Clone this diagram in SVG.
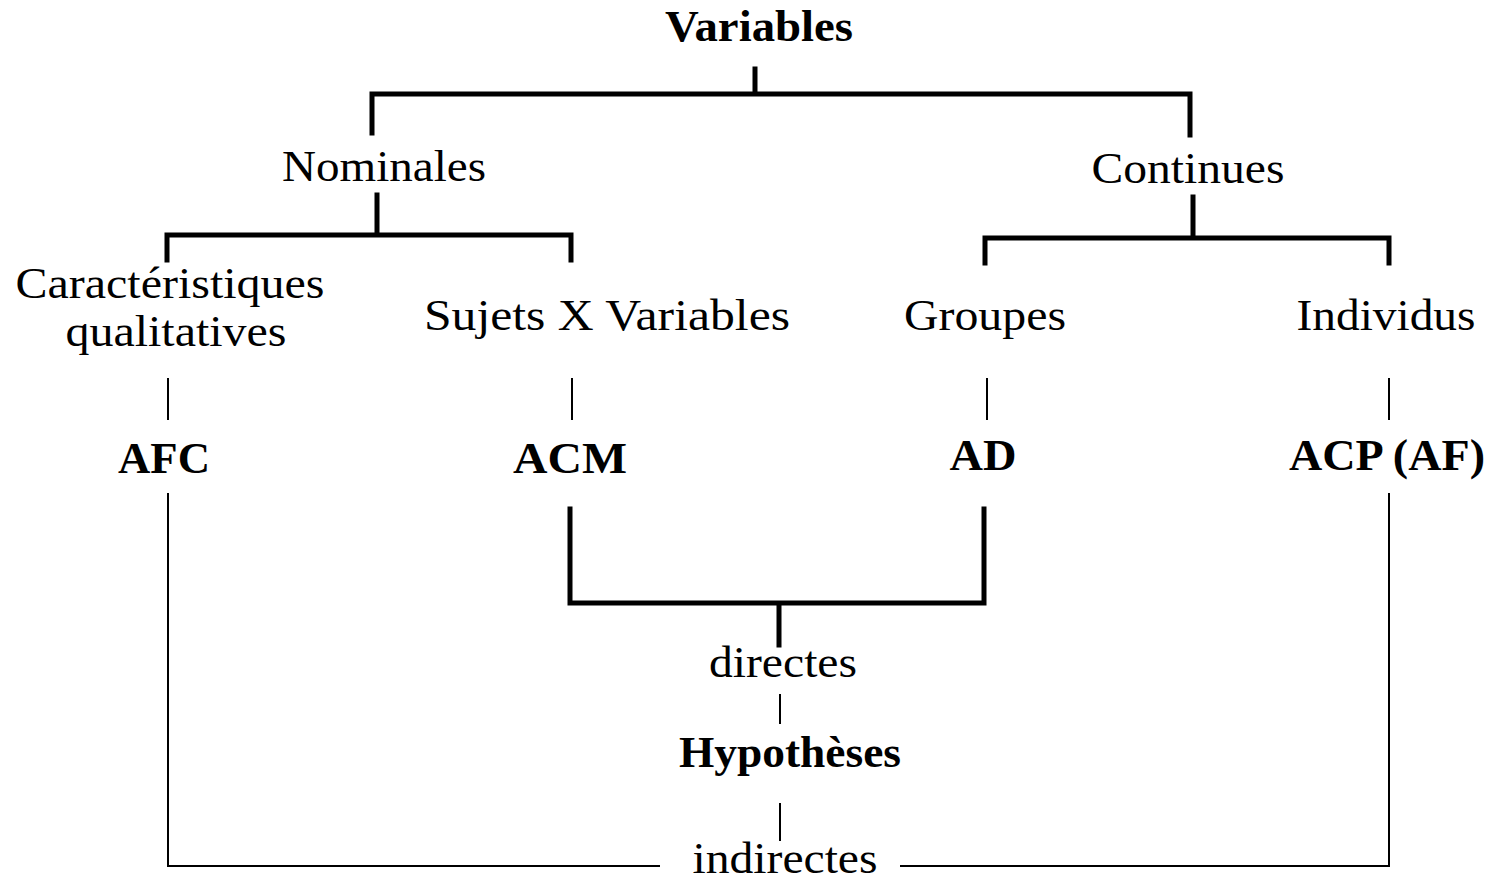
<svg xmlns="http://www.w3.org/2000/svg" width="1494" height="881" viewBox="0 0 1494 881">
<style>
text{font-family:"Liberation Serif","Times New Roman",serif;font-size:44px;fill:#000;text-anchor:middle}
.b{font-weight:bold}
.thick{stroke:#000;stroke-width:5;fill:none;stroke-linecap:square}
.thin{stroke:#000;stroke-width:2;fill:none}
</style>
<rect width="1494" height="881" fill="#fff"/>
<g id="connectors">
<path class="thick" d="M755,69 V93 M372,133 V94 H1190 V135"/>
<path class="thick" d="M377,195 V234 M167,260 V235 H571 V260"/>
<path class="thick" d="M1193,197 V236 M985,263 V238 H1389 V263"/>
<path class="thin" d="M168,378 V420 M572,378 V420 M987,378 V420 M1389,378 V420"/>
<path class="thick" d="M570,509 V603 H984 V509 M779,606 V645"/>
<path class="thin" d="M780,694 V724 M780,803 V841"/>
<path class="thin" d="M168,493 V866 H660 M900,866 H1389 V493"/>
</g>
<g id="n-variables"><text class="b" x="759" y="41" textLength="188" lengthAdjust="spacingAndGlyphs">Variables</text></g>
<g id="n-nominales"><text x="384" y="181" textLength="204" lengthAdjust="spacingAndGlyphs">Nominales</text></g>
<g id="n-continues"><text x="1188" y="183" textLength="193" lengthAdjust="spacingAndGlyphs">Continues</text></g>
<g id="n-caract"><text x="170" y="298" textLength="309" lengthAdjust="spacingAndGlyphs">Caractéristiques</text><text x="176" y="346" textLength="221" lengthAdjust="spacingAndGlyphs">qualitatives</text></g>
<g id="n-sujets"><text x="607" y="330" textLength="366" lengthAdjust="spacingAndGlyphs">Sujets X Variables</text></g>
<g id="n-groupes"><text x="985" y="330" textLength="162" lengthAdjust="spacingAndGlyphs">Groupes</text></g>
<g id="n-individus"><text x="1386" y="330" textLength="179" lengthAdjust="spacingAndGlyphs">Individus</text></g>
<g id="n-afc"><text class="b" x="164" y="473" textLength="92" lengthAdjust="spacingAndGlyphs">AFC</text></g>
<g id="n-acm"><text class="b" x="570" y="473" textLength="114" lengthAdjust="spacingAndGlyphs">ACM</text></g>
<g id="n-ad"><text class="b" x="983" y="470" textLength="67" lengthAdjust="spacingAndGlyphs">AD</text></g>
<g id="n-acp"><text class="b" x="1387" y="470" textLength="196" lengthAdjust="spacingAndGlyphs">ACP (AF)</text></g>
<g id="n-directes"><text x="783" y="677" textLength="148" lengthAdjust="spacingAndGlyphs">directes</text></g>
<g id="n-hypotheses"><text class="b" x="790" y="767" textLength="222" lengthAdjust="spacingAndGlyphs">Hypothèses</text></g>
<g id="n-indirectes"><text x="785" y="873" textLength="185" lengthAdjust="spacingAndGlyphs">indirectes</text></g>
</svg>
